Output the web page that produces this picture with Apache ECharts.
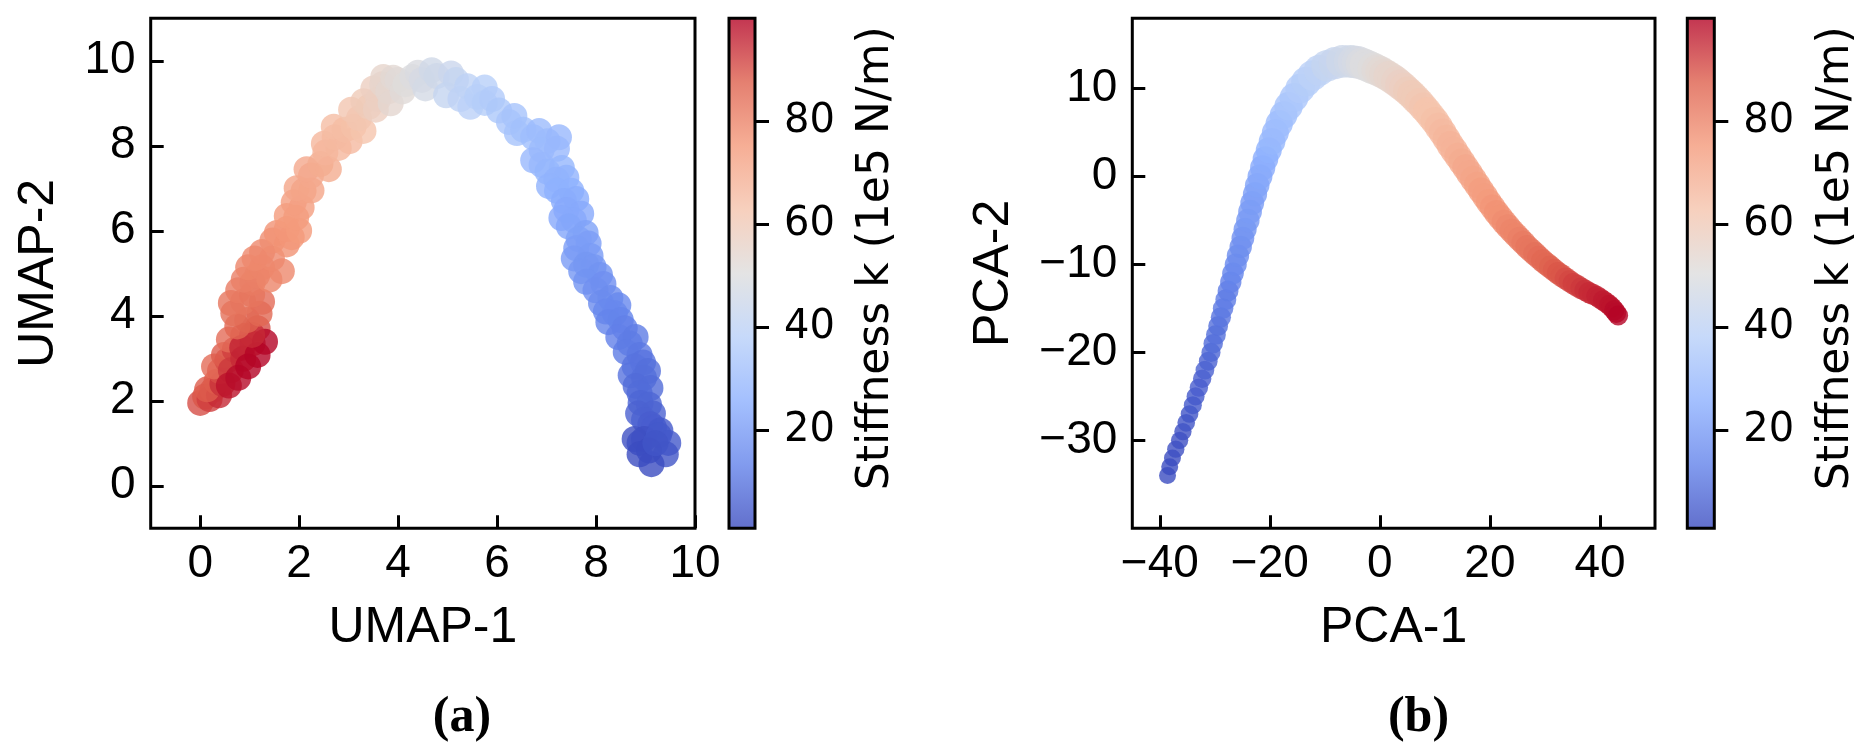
<!DOCTYPE html>
<html><head><meta charset="utf-8">
<script src="https://cdn.jsdelivr.net/npm/echarts@6/dist/echarts.min.js"></script>
<style>html,body{margin:0;padding:0;background:#fff}#c{width:1876px;height:756px}</style>
</head><body><div id="c"></div>
<script>
// ---- Panel (a): UMAP embedding (points read along the band, red end -> blue end) ----
const umapX = [
  0.00,0.10,0.19,0.25,0.38,0.14,0.33,0.45,0.40,0.28,0.55,0.48,0.70,0.58,0.87,1.16,0.62,0.87,1.06,0.85,0.58,0.77,0.97,1.16,1.31,1.05,
  0.75,0.95,1.20,0.67,0.87,1.25,0.62,0.77,1.05,1.06,0.88,1.15,0.97,1.25,1.40,1.65,1.10,1.45,1.25,1.46,1.75,1.55,1.85,1.75,2.00,1.75,
  1.94,2.05,1.89,2.09,1.95,2.25,2.24,2.15,2.43,2.60,2.53,2.50,2.80,2.72,3.02,2.70,2.92,3.10,3.30,3.21,3.05,3.41,3.30,3.60,3.55,3.50,
  3.68,3.70,3.80,3.85,3.90,3.99,4.09,4.15,4.29,4.40,4.48,4.55,4.68,4.78,5.07,5.17,4.97,5.26,5.40,5.46,5.60,5.75,5.75,5.90,
  6.04,6.24,6.35,6.40,6.53,6.73,6.85,7.02,6.90,7.25,7.21,6.73,6.90,7.02,7.31,7.20,7.40,7.05,7.21,7.50,7.35,7.60,7.40,7.70,7.55,7.30,
  7.45,7.79,7.65,7.85,7.60,7.55,7.89,7.80,7.95,7.70,8.08,7.80,8.15,7.99,8.29,8.10,8.45,8.38,8.20,8.25,8.50,8.58,8.45,8.80,8.68,8.60,
  8.88,8.95,8.78,8.70,8.97,9.05,8.80,9.10,8.88,8.90,9.07,9.15,8.85,8.97,9.10,9.17,9.30,
  8.78,8.88,8.97,9.27,9.46,9.41,9.07,9.12,8.88,9.20];
const umapY = [
  1.95,2.10,2.04,2.25,2.13,2.27,2.45,2.40,2.70,2.81,2.95,3.08,3.20,3.44,3.53,3.71,2.72,2.99,3.35,3.25,2.36,2.54,2.81,3.08,3.39,3.55,
  3.75,3.90,4.05,4.06,4.33,4.33,4.30,4.60,4.50,4.78,4.85,4.95,5.14,5.14,4.85,5.05,5.35,5.35,5.50,5.77,5.68,5.95,5.85,6.04,6.00,6.35,
  6.31,6.55,6.67,6.94,7.00,6.95,7.30,7.45,7.57,7.45,7.84,8.05,7.95,8.20,8.11,8.45,8.38,8.45,8.35,8.65,8.85,8.92,9.05,9.10,8.85,9.35,
  9.45,9.62,9.28,9.00,9.60,9.55,9.28,9.45,9.62,9.72,9.55,9.35,9.78,9.64,9.70,9.55,9.19,9.10,9.40,8.92,9.15,9.37,9.01,9.10,
  8.83,8.56,8.70,8.30,8.38,8.20,8.35,8.11,7.90,8.20,7.93,7.66,7.55,7.39,7.48,7.20,7.25,7.05,6.94,6.94,6.70,6.75,6.49,6.40,6.25,6.30,
  6.10,5.95,5.80,5.70,5.59,5.35,5.41,5.20,5.15,5.05,4.96,4.80,4.75,4.60,4.42,4.30,4.25,4.06,4.10,3.85,3.90,3.71,3.50,3.50,3.35,3.15,
  3.08,2.90,2.81,2.60,2.54,2.70,2.35,2.30,2.18,1.95,1.91,1.70,1.70,1.55,1.45,1.37,1.30,
  1.10,1.01,1.10,1.19,1.01,0.74,0.83,0.51,0.74,1.00];
const umapK = [
  90,89,92,90,95,88,88,94,90,85,90,88,92,85,88,90,93,95,93,96,98,99,100,100,100,95,
  86,87,86,84,83,85,83,82,83,82,81,81,80,80,80,79,79,79,79,78,77,77,76,76,75,75,
  75,74,74,73,72,72,71,71,70,70,68,67,67,66,66,65,65,64,63,62,62,60,60,57,58,58,
  55,55,54,54,53,52,52,51,50,49,48,47,46,45,44,42,42,40,40,39,38,38,37,36,
  35,34,33,33,32,31,30,30,30,29,29,29,29,28,28,27,27,27,26,26,25,25,24,24,24,24,
  23,22,22,21,21,20,20,19,19,19,18,18,17,17,16,16,15,15,15,14,14,13,13,12,12,12,
  11,10,10,10,9,9,8,8,8,7,7,6,6,6,5,5,4,
  2,2,2,4,4,3,1,1,1,3];

// ---- Panel (b): PCA projection (blue end -> red end) ----
const pcaX = [
  -38.6,-38.2,-37.7,-37.1,-36.4,-35.8,-35.2,-34.6,-34.0,-33.5,-32.9,-32.3,-31.8,-31.2,-30.7,-30.3,-29.8,-29.4,
  -28.9,-28.5,-28.0,-27.6,-27.1,-26.7,-26.2,-25.8,-25.3,-24.9,-24.5,-24.0,-23.6,-23.2,-22.7,-22.3,-21.8,-21.3,-20.8,-20.2,
  -19.6,-19.0,-18.3,-17.5,-16.6,-15.6,-14.5,-13.4,-12.2,-11.0,-9.6,-8.2,-6.8,
  -5.4,-4.7,-4.0,-3.3,-2.6,-1.9,-1.2,-0.5,0.2,0.9,1.6,2.3,3.0,3.7,4.4,5.1,5.8,6.5,
  7.2,7.9,8.6,9.3,10.0,10.7,11.4,12.1,12.8,13.5,14.2,14.9,15.6,16.3,17.0,17.7,18.4,19.1,19.8,20.5,
  21.2,21.9,22.6,23.3,24.0,24.7,25.4,26.1,26.8,27.5,28.2,28.9,29.6,30.3,31.0,31.7,32.4,33.1,33.8,34.5,
  35.2,35.9,36.6,37.3,38.0,38.7,39.4,40.0,40.6,41.15,41.7,42.15,42.6,42.95,43.3];
const pcaY = [
  -34.0,-33.0,-32.0,-31.0,-30.0,-29.0,-28.0,-27.0,-26.0,-25.0,-24.0,-23.0,-22.0,-21.0,-20.0,-19.0,-18.0,-17.0,
  -16.0,-15.0,-14.0,-13.0,-12.0,-11.0,-10.0,-9.0,-8.0,-7.0,-6.0,-5.0,-4.0,-3.0,-2.0,-1.0,0.0,1.0,2.0,3.0,
  4.0,5.0,6.0,7.0,8.0,9.0,10.0,10.8,11.5,12.1,12.6,12.9,13.1,
  13.1,13.05,13.0,12.85,12.7,12.5,12.3,12.1,11.9,11.65,11.4,11.1,10.8,10.45,10.1,9.7,9.3,8.85,
  8.4,7.9,7.4,6.85,6.3,5.65,5.0,4.3,3.6,2.95,2.3,1.65,1.0,0.35,-0.3,-0.95,-1.6,-2.25,-2.9,-3.5,
  -4.1,-4.65,-5.2,-5.7,-6.2,-6.65,-7.1,-7.55,-8.0,-8.4,-8.8,-9.2,-9.6,-9.95,-10.3,-10.65,-11.0,-11.3,-11.6,-11.9,
  -12.2,-12.45,-12.7,-12.95,-13.2,-13.4,-13.6,-13.85,-14.1,-14.35,-14.6,-14.9,-15.2,-15.5,-15.8];
const pcaK = [
  1,1,1,2,2,2,3,3,4,4,5,5,6,6,7,8,9,9,
  10,11,12,12,13,14,15,16,16,17,18,19,20,20,21,22,23,24,25,26,
  28,29,30,31,33,34,36,37,39,40,42,43,45,
  46,47,48,49,50,50,51,52,53,54,55,55,56,57,58,59,60,60,
  61,62,63,63,64,65,66,67,68,68,69,70,71,71,72,73,74,74,75,76,
  77,77,78,79,80,80,81,82,83,83,84,85,86,86,87,88,89,89,90,91,
  92,92,93,94,95,95,96,96,97,97,98,98,99,99,100];

// ---- Axis ticks / colour scale ----
const umapXTicks = [0,2,4,6,8,10];
const umapYTicks = [0,2,4,6,8,10];
const pcaXTicks = [-40,-20,0,20,40];
const pcaYTicks = [-30,-20,-10,0,10];
const cbarTicks = [20,40,60,80];
const kRange = [1,100];
const coolwarm = ['#3b4cc0','#6282ea','#8db0fe','#b8d0f9','#dddddd','#f5c4ad','#f49a7b','#de604d','#b40426'];

const zip3 = (a,b,c) => a.map((v,i)=>[v,b[i],c[i]]);
const minus = v => String(v).replace('-', '\u2212');
function rgba(hex, a){const n=parseInt(hex.slice(1),16);return `rgba(${n>>16},${(n>>8)&255},${n&255},${a})`;}
const ALPHA = 0.8;
const cbarGradient = () => new echarts.graphic.LinearGradient(0,0,0,1,
  coolwarm.slice().reverse().map((c,i,arr)=>({offset:i/(arr.length-1), color:rgba(c,ALPHA)})));

const SANS = 'Liberation Sans, Arial, Helvetica, sans-serif';
const CB = 'DejaVu Sans, sans-serif';
const TOP = 18.3, H = 510;
const grids = [
  {left:150.7, top:TOP, width:544.3, height:H},
  {left:729, top:TOP, width:26, height:H, z:5},
  {left:1132.3, top:TOP, width:522.7, height:H},
  {left:1687.3, top:TOP, width:27, height:H, z:5}
].map(g=>Object.assign({show:true, borderColor:'#000', borderWidth:3, backgroundColor:'transparent',
  containLabel:false, outerBoundsMode:'none'}, g));

function valAxis(dir, grid, min, max, ticks, name, nameGap){
  return {
    type:'value', gridIndex:grid, min, max, position: dir==='x' ? 'bottom' : 'left',
    axisLine:{show:false, onZero:false},
    axisTick:{show:true, inside:true, length:13, lineStyle:{color:'#000', width:3}, customValues:ticks},
    axisLabel:{show:true, customValues:ticks, formatter:minus, color:'#000', fontFamily:SANS, fontSize:46,
      margin: dir==='x' ? 13 : 15},
    splitLine:{show:false},
    name, nameLocation:'middle', nameGap, nameMoveOverlap:false,
    nameTextStyle:{color:'#000', fontFamily:SANS, fontSize:50}
  };
}
function cbarAxis(grid){
  return {
    type:'value', gridIndex:grid, min:kRange[0], max:kRange[1], position:'right',
    axisLine:{show:false, onZero:false},
    axisTick:{show:true, inside:false, length:14, lineStyle:{color:'#000', width:3}, customValues:cbarTicks},
    axisLabel:{show:true, customValues:cbarTicks, color:'#000', fontFamily:CB, fontSize:40, margin:29},
    splitLine:{show:false},
    name:'Stiffness k (1e5 N/m)', nameLocation:'middle', nameGap:100, nameMoveOverlap:false,
    nameTextStyle:{color:'#000', fontFamily:CB, fontSize:44, padding:[0,0,0,30]}
  };
}
const catAxis = g => ({type:'category', gridIndex:g, data:['k'], show:false});

// band of the PCA curve is thinner at the ends than around the peak
const pcaSize = v => { const t=(v[2]-kRange[0])/(kRange[1]-kRange[0]); return t<0.45 ? 17+16*t/0.45 : 33-13*(t-0.45)/0.55; };

const panelTitle = (letter, x) => ({text:'{p|(}{b|'+letter+'}{p|)}', left:x, top:688, textAlign:'center',
  textStyle:{rich:{p:{fontFamily:'Liberation Serif, serif', fontSize:50, color:'#000'},
                   b:{fontFamily:'Liberation Serif, serif', fontSize:50, fontWeight:'bold', color:'#000'}}}});

const option = {
  animation:false,
  backgroundColor:'#fff',
  title:[panelTitle('a',457), panelTitle('b',1413.5)],
  grid: grids,
  xAxis:[
    valAxis('x',0,-1,10,umapXTicks,'UMAP-1',75),
    catAxis(1),
    valAxis('x',2,-45,50,pcaXTicks,'PCA-1',75),
    catAxis(3)
  ],
  yAxis:[
    valAxis('y',0,-1,11,umapYTicks,'UMAP-2',86),
    cbarAxis(1),
    valAxis('y',2,-40,18,pcaYTicks,'PCA-2',113),
    cbarAxis(3)
  ],
  visualMap:[{type:'continuous', show:false, seriesIndex:[0,1], dimension:2, min:kRange[0], max:kRange[1],
    inRange:{color:coolwarm}}],
  series:[
    {type:'scatter', xAxisIndex:0, yAxisIndex:0, data:zip3(umapX,umapY,umapK), symbolSize:26,
      itemStyle:{opacity:ALPHA}, silent:true},
    {type:'scatter', xAxisIndex:2, yAxisIndex:2, data:zip3(pcaX,pcaY,pcaK), symbolSize:pcaSize,
      itemStyle:{opacity:ALPHA}, silent:true},
    {type:'bar', xAxisIndex:1, yAxisIndex:1, data:[kRange[1]], barWidth:'100%', silent:true,
      itemStyle:{color:cbarGradient()}},
    {type:'bar', xAxisIndex:3, yAxisIndex:3, data:[kRange[1]], barWidth:'100%', silent:true,
      itemStyle:{color:cbarGradient()}}
  ]
};
const chart = echarts.init(document.getElementById('c'), null, {renderer:'canvas'});
chart.setOption(option);
</script></body></html>
